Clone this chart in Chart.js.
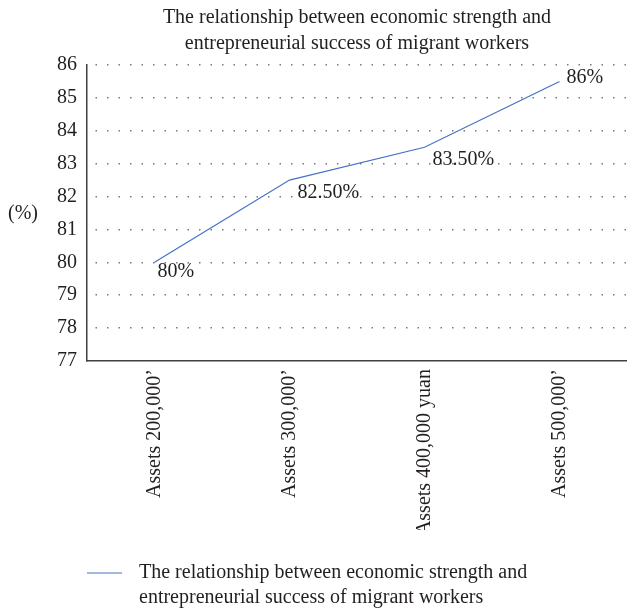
<!DOCTYPE html>
<html>
<head>
<meta charset="utf-8">
<script src="https://cdn.jsdelivr.net/npm/chart.js@4/dist/chart.umd.min.js"></script>
<style>
html,body{margin:0;padding:0;background:#fff;}
#wrap{width:627px;height:610px;position:relative;}
</style>
</head>
<body>
<div id="wrap"><canvas id="c" width="627" height="610"></canvas></div>
<script>
const categories = ["Assets 200,000\u2019", "Assets 300,000\u2019", "Assets 400,000 yuan", "Assets 500,000\u2019"];
const values = [80, 82.5, 83.5, 85.5];
const pointLabels = ["80%", "82.50%", "83.50%", "86%"];
const yTicks = [77, 78, 79, 80, 81, 82, 83, 84, 85, 86];
const titleLines = ["The relationship between economic strength and", "entrepreneurial success of migrant workers"];
const seriesName = ["The relationship between economic strength and", "entrepreneurial success of migrant workers"];

const FONT = "'Liberation Serif', 'Times New Roman', serif";
const lineColor = "#4472C4";
const textColor = "#231f20";

const extras = {
  id: 'extras',
  afterDatasetsDraw(chart) {
    const ctx = chart.ctx;
    const meta = chart.getDatasetMeta(0);
    ctx.save();
    ctx.fillStyle = textColor;
    ctx.font = "20px " + FONT;
    ctx.textBaseline = 'middle';
    ctx.textAlign = 'left';
    const offs = [[3, 9], [8, 13], [8, 13], [7, -4]];
    meta.data.forEach((pt, i) => {
      ctx.fillText(pointLabels[i], pt.x + offs[i][0], pt.y + offs[i][1]);
    });
    // y axis title
    ctx.fillText("(%)", 8, 214);
    // legend
    ctx.strokeStyle = lineColor;
    ctx.lineWidth = 1.2;
    ctx.beginPath();
    ctx.moveTo(87, 573);
    ctx.lineTo(122, 573);
    ctx.stroke();
    ctx.fillText(seriesName[0], 139, 573);
    ctx.fillText(seriesName[1], 139, 598);
    ctx.restore();
  }
};

new Chart(document.getElementById('c'), {
  type: 'line',
  data: {
    labels: categories,
    datasets: [{
      label: seriesName.join(' '),
      data: values,
      borderColor: lineColor,
      borderWidth: 1.2,
      pointRadius: 0,
      tension: 0,
      fill: false
    }]
  },
  options: {
    responsive: false,
    animation: false,
    devicePixelRatio: 1,
    layout: { padding: { left: 0, right: 0, top: 0, bottom: 80 } },
    plugins: {
      legend: { display: false },
      tooltip: { enabled: false },
      title: {
        display: true,
        text: titleLines,
        fullSize: false,
        color: textColor,
        font: { family: FONT, size: 20, weight: 'normal', lineHeight: 1.3 },
        padding: { top: 5, bottom: 8 }
      }
    },
    scales: {
      x: {
        offset: true,
        grid: { display: false, drawTicks: false },
        border: { display: true, color: '#404040', width: 1.5 },
        ticks: {
          color: textColor,
          font: { family: FONT, size: 20 },
          maxRotation: 90,
          minRotation: 90,
          padding: 8,
          autoSkip: false
        },
        afterFit(scale) { scale.height = 169; }
      },
      y: {
        min: 77,
        max: 86,
        afterBuildTicks(scale) { scale.ticks = yTicks.map(v => ({ value: v })); },
        grid: {
          color: (c) => c.tick && c.tick.value === 77 ? 'rgba(0,0,0,0)' : '#7a7a7a',
          lineWidth: 1.5,
          drawTicks: false
        },
        border: { display: true, color: '#404040', width: 1.5, dash: [1.5, 10], dashOffset: -8 },
        ticks: {
          color: textColor,
          font: { family: FONT, size: 20 },
          padding: 10
        },
        afterFit(scale) { scale.width = 87; }
      }
    }
  },
  plugins: [extras]
});
</script>
</body>
</html>
